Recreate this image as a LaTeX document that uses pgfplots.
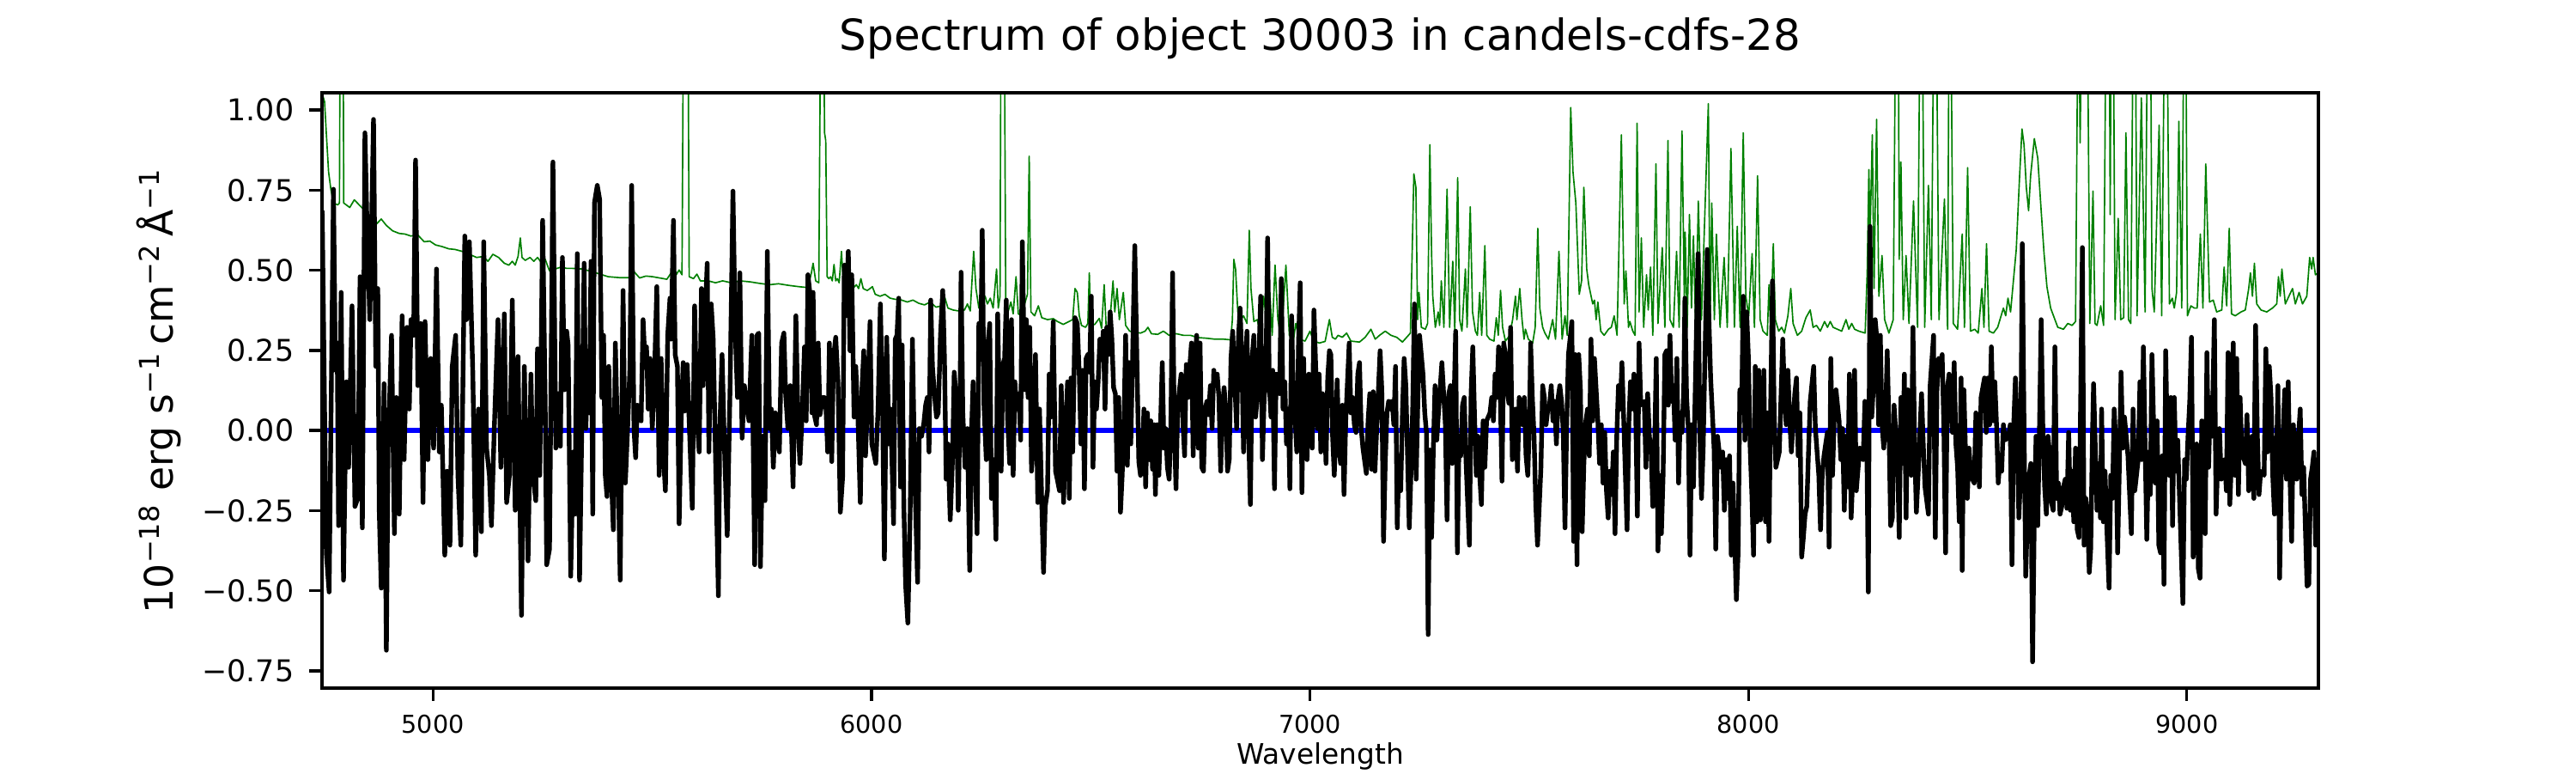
\documentclass[border=0pt]{standalone}
\usepackage{fontspec}
\setmainfont{DejaVu Sans}
\usepackage{pgfplots}
\pgfplotsset{compat=1.18}
\definecolor{mplgreen}{RGB}{0,128,0}
\definecolor{mplblue}{RGB}{0,0,255}
\begin{document}
\begin{tikzpicture}
\useasboundingbox (-1.25in,-0.33in) rectangle (8.75in,2.67in);
\begin{axis}[
  at={(0,0)}, anchor=south west,
  scale only axis, width=7.75in, height=2.31in,
  xmin=4747, xmax=9300, ymin=-0.804, ymax=1.054,
  clip=true,
  axis on top,
  axis line style={line width=0.8pt, black},
  major tick style={line width=0.8pt, black},
  tick align=outside, major tick length=3.5pt,
  xtick pos=bottom, ytick pos=left,
  xtick={5000,6000,7000,8000,9000},
  xticklabels={5000,6000,7000,8000,9000},
  ytick={-0.75,-0.5,-0.25,0,0.25,0.5,0.75,1},
  yticklabels={−0.75,−0.50,−0.25,0.00,0.25,0.50,0.75,1.00},
  xticklabel style={font=\fontsize{6.9}{8}\selectfont, inner sep=0pt, anchor=north, yshift=-3.9pt},
  yticklabel style={font=\fontsize{8.4}{10}\selectfont, inner sep=0pt, anchor=east, xshift=-4.2pt},
  title={Spectrum of object 30003 in candels-cdfs-28},
  title style={font=\fontsize{12}{14}\selectfont, at={(axis description cs:0.5,1)}, anchor=base, yshift=6pt, inner sep=0pt},
  xlabel={Wavelength},
  xlabel style={font=\fontsize{7.9}{9}\selectfont, at={(axis description cs:0.5,0)}, anchor=north, yshift=-15pt, inner sep=0pt},
  ylabel={10\textsuperscript{−18} erg s\textsuperscript{−1}\,cm\textsuperscript{−2}\,Å\textsuperscript{−1}},
  ylabel style={font=\fontsize{11}{13}\selectfont, at={(axis description cs:-0.0745,0.5)}, anchor=base, inner sep=0pt},
]
% error / sky spectrum (green)
\addplot[mplgreen, line width=0.4pt, mark=none, line join=round] coordinates {
(4747.5,1.06)(4749.0,1.044)(4752.9,1.026)(4756.8,0.929)(4762.0,0.807)(4767.2,0.753)(4773.1,0.710)(4782.9,0.704)(4786.8,0.710)(4788.8,1.5)(4794.6,1.5)(4796.6,0.710)(4802.5,0.704)(4810.3,0.696)(4820.7,0.720)(4831.8,0.704)(4844.9,0.686)(4857.9,0.656)(4871.0,0.644)(4882.1,0.660)(4893.8,0.640)(4908.2,0.623)(4923.2,0.615)(4936.3,0.613)(4949.3,0.607)(4965.6,0.610)(4980.0,0.589)(4993.1,0.591)(5006.1,0.579)(5021.1,0.574)(5036.1,0.567)(5050.5,0.565)(5066.8,0.559)(5083.1,0.550)(5099.5,0.540)(5114.5,0.543)(5125.6,0.528)(5136.7,0.550)(5149.7,0.540)(5162.8,0.522)(5173.2,0.516)(5181.0,0.528)(5187.6,0.516)(5194.1,0.543)(5199.3,0.601)(5203.2,0.540)(5210.4,0.531)(5221.5,0.540)(5230.0,0.528)(5238.5,0.540)(5246.3,0.526)(5256.1,0.534)(5265.9,0.498)(5278.9,0.504)(5292.0,0.510)(5305.0,0.506)(5318.1,0.506)
(5340.9,0.504)(5367.0,0.494)(5399.7,0.480)(5425.8,0.477)(5448.6,0.477)(5459.7,0.494)(5471.4,0.476)(5485.8,0.482)(5500.8,0.480)(5517.1,0.476)(5533.5,0.472)(5543.2,0.492)(5553.0,0.482)(5561.5,0.501)(5568.0,0.486)(5572.0,1.5)(5581.1,1.5)(5584.4,0.480)(5594.2,0.474)(5602.0,0.488)(5609.8,0.467)(5628.1,0.467)(5644.4,0.461)(5660.7,0.467)(5680.3,0.461)(5699.9,0.467)(5722.7,0.464)(5745.6,0.459)(5768.4,0.455)(5788.0,0.458)(5810.9,0.453)(5833.7,0.449)(5855.2,0.446)(5863.1,0.492)(5867.0,0.522)(5872.9,0.467)(5880.0,0.461)(5885.2,1.5)(5890.5,1.5)(5893.1,0.929)(5895.8,0.905)(5899.0,0.480)
(5903.0,0.474)(5906.9,0.480)(5910.8,0.467)(5914.7,0.518)(5918.6,0.467)(5922.5,0.474)(5926.4,0.461)(5931.7,0.559)(5935.6,0.467)(5939.5,0.522)(5943.4,0.492)(5947.3,0.504)(5952.5,0.461)(5957.8,0.443)(5965.6,0.455)(5970.8,0.443)(5976.0,0.474)(5981.3,0.443)(5990.4,0.437)(5996.9,0.443)(6002.2,0.449)(6008.7,0.425)(6019.8,0.419)(6030.9,0.425)(6042.6,0.413)(6055.7,0.409)(6068.7,0.407)(6081.8,0.401)(6094.8,0.407)(6107.9,0.397)(6121.0,0.392)(6134.0,0.401)(6147.1,0.385)(6160.1,0.389)(6166.6,0.419)(6174.5,0.382)(6186.2,0.376)(6199.3,0.373)(6212.3,0.376)(6218.9,0.395)(6225.4,0.373)(6233.2,0.559)(6238.4,0.443)(6245.0,0.382)(6252.8,0.407)(6259.3,0.419)(6264.5,0.395)(6271.1,0.413)(6277.6,0.382)(6285.4,0.504)(6289.3,0.382)(6293.3,0.419)(6295.9,1.5)(6302.4,1.5)(6306.3,0.407)(6311.5,0.370)(6318.1,0.401)(6323.3,0.364)(6329.8,0.480)(6335.0,0.364)(6342.9,0.358)(6349.4,0.395)(6355.9,0.425)(6359.8,0.856)(6363.8,0.370)(6372.2,0.358)(6380.7,0.389)(6388.5,0.352)(6401.6,0.346)(6414.7,0.349)(6424.4,0.340)(6437.5,0.331)(6450.6,0.340)(6459.0,0.346)(6464.3,0.443)(6469.5,0.431)
(6474.0,0.358)(6479.2,0.328)(6488.4,0.322)(6493.6,0.334)(6496.9,0.492)(6500.1,0.328)(6509.3,0.331)(6519.7,0.350)(6524.9,0.319)(6530.8,0.455)(6535.4,0.322)(6543.2,0.328)(6551.0,0.467)(6555.0,0.370)(6560.2,0.443)(6565.4,0.346)(6574.5,0.431)(6579.8,0.328)(6588.9,0.310)(6600.6,0.307)(6613.7,0.304)(6624.1,0.310)(6630.7,0.322)(6638.5,0.302)(6652.9,0.300)(6665.9,0.310)(6679.0,0.297)(6695.3,0.302)(6711.6,0.297)(6727.9,0.297)(6744.2,0.290)(6763.8,0.288)(6783.4,0.285)(6803.0,0.285)(6819.3,0.283)(6823.2,0.346)(6826.5,0.534)(6830.4,0.504)(6835.6,0.370)(6842.1,0.346)(6848.7,0.358)(6856.5,0.334)(6861.7,0.625)(6865.6,0.443)(6872.2,0.340)(6880.0,0.346)(6887.8,0.291)(6894.4,0.419)(6900.9,0.346)(6908.7,0.431)(6913.9,0.297)(6920.5,0.516)(6927.0,0.346)(6934.8,0.285)(6945.3,0.516)(6953.1,0.297)(6962.9,0.285)(6967.5,0.334)(6976.0,0.285)(6989.0,0.279)(7000.1,0.310)(7008.6,0.279)(7021.6,0.273)(7034.7,0.278)(7044.5,0.346)(7051.0,0.291)
(7058.2,0.285)(7064.1,0.297)(7073.9,0.291)(7083.7,0.304)(7093.5,0.279)(7113.1,0.276)(7126.1,0.291)(7139.2,0.316)(7149.0,0.285)(7158.8,0.297)(7171.8,0.310)(7184.9,0.297)(7197.9,0.291)(7211.0,0.276)(7220.8,0.291)(7229.2,0.304)(7237.1,0.801)(7241.7,0.759)(7245.6,0.346)(7248.8,0.431)(7254.1,0.322)(7263.2,0.316)(7268.4,0.334)(7273.6,0.892)(7277.5,0.552)(7280.2,0.419)(7286.0,0.322)(7292.6,0.370)(7295.8,0.328)(7299.7,0.467)(7305.6,0.322)(7312.8,0.753)(7318.7,0.322)(7325.8,0.528)(7330.4,0.310)(7337.0,0.789)(7341.5,0.346)(7346.7,0.310)(7354.6,0.504)(7358.5,0.322)(7365.7,0.698)(7370.9,0.370)(7377.4,0.310)(7382.0,0.297)(7387.2,0.431)(7391.8,0.297)(7399.0,0.577)(7403.5,0.297)(7410.0,0.285)(7419.8,0.279)(7425.1,0.352)(7429.6,0.297)(7434.8,0.437)(7439.4,0.322)(7445.9,0.279)(7455.7,0.297)(7462.3,0.346)(7468.8,0.419)(7472.1,0.346)(7478.6,0.443)(7483.8,0.346)(7488.4,0.285)(7491.6,0.316)(7498.2,0.285)(7508.0,0.273)(7513.8,0.322)(7519.7,0.631)(7524.3,0.382)(7530.8,0.322)(7536.0,0.304)(7543.9,0.285)(7553.6,0.346)(7560.2,0.285)(7568.0,0.559)(7575.2,0.285)(7581.7,0.358)(7586.9,0.297)(7594.8,1.008)(7600.0,0.807)(7606.5,0.710)(7614.3,0.425)(7619.6,0.467)(7624.8,0.759)(7631.3,0.504)
(7635.8,0.455)(7645.0,0.395)(7648.9,0.407)(7652.8,0.346)(7656.7,0.401)(7663.3,0.310)(7671.1,0.297)(7680.9,0.316)(7687.4,0.322)(7693.9,0.358)(7700.5,0.297)(7710.3,0.923)(7716.8,0.395)(7720.7,0.498)(7726.6,0.322)(7729.8,0.340)(7736.4,0.310)(7741.6,0.297)(7746.2,0.959)(7750.7,0.370)(7755.9,0.601)(7761.2,0.322)(7767.7,0.486)(7771.6,0.376)(7776.8,0.510)(7782.0,0.297)(7789.2,0.832)(7793.8,0.334)(7803.6,0.571)(7809.5,0.322)(7816.6,0.905)(7821.2,0.346)(7829.0,0.322)(7836.2,0.559)(7842.1,0.322)(7848.6,0.935)(7853.9,0.407)(7855.8,0.619)(7860.4,0.322)(7865.6,0.674)(7870.2,0.382)(7874.7,0.607)(7879.9,0.310)(7885.8,0.716)(7893.0,0.346)(7908.7,1.020)(7912.6,0.334)(7916.5,0.710)(7922.4,0.346)(7927.0,0.613)(7935.4,0.322)(7944.6,0.540)(7951.8,0.322)(7960.2,0.880)(7968.1,0.322)(7974.6,0.637)(7981.1,0.322)(7988.3,0.929)(7994.2,0.419)(8000.7,0.358)(8008.5,0.552)(8013.8,0.322)(8020.9,0.795)(8026.8,0.346)(8033.3,0.310)(8043.1,0.297)(8047.0,0.455)(8051.0,0.310)(8056.8,0.583)(8061.4,0.346)(8069.2,0.310)(8075.8,0.322)(8082.3,0.304)(8090.1,0.358)(8096.7,0.443)(8101.9,0.334)(8111.7,0.297)(8121.5,0.310)(8131.2,0.352)(8141.0,0.376)(8147.6,0.322)(8155.4,0.328)(8163.9,0.310)(8173.7,0.340)(8180.2,0.322)(8186.7,0.340)(8193.2,0.322)(8203.0,0.316)
(8212.8,0.310)(8222.6,0.346)(8229.1,0.316)(8235.6,0.334)(8242.2,0.316)(8252.0,0.310)(8266.3,0.304)(8270.9,0.492)(8274.8,0.814)(8277.4,0.601)(8282.6,0.923)(8286.5,0.443)(8292.4,0.971)(8297.6,0.419)(8304.8,0.546)(8310.7,0.346)(8320.5,0.304)(8330.3,0.346)(8336.8,1.5)(8341.4,1.5)(8344.0,0.534)(8347.9,0.838)(8353.1,0.346)(8359.6,0.546)(8366.2,0.334)(8376.6,0.716)(8385.8,0.322)(8392.3,1.5)(8395.5,1.5)(8402.1,0.322)(8410.6,0.765)(8417.1,0.346)(8423.6,1.5)(8427.5,1.5)(8434.7,0.346)(8447.1,0.722)(8454.3,0.316)(8458.2,1.5)(8460.8,1.5)(8467.3,0.334)(8477.1,0.316)(8487.6,0.613)(8492.8,0.322)(8500.0,0.820)(8506.5,0.310)(8516.3,0.316)(8524.1,0.304)(8532.6,0.443)(8537.2,0.322)(8543.1,0.583)(8548.9,0.310)(8558.7,0.304)(8568.5,0.322)(8581.6,0.382)(8586.8,0.358)(8592.0,0.413)(8597.9,0.370)(8610.9,0.565)(8618.1,0.783)(8624.0,0.941)(8628.6,0.892)(8633.8,0.759)(8639.0,0.686)(8643.6,0.795)(8652.1,0.911)(8659.9,0.850)(8667.7,0.686)(8674.3,0.552)(8680.8,0.449)(8689.3,0.382)(8695.8,0.358)(8705.6,0.322)(8718.6,0.316)(8728.4,0.334)(8738.2,0.328)(8746.1,0.340)(8752.6,1.5)(8756.5,0.898)(8761.7,1.5)(8772.2,1.5)(8778.7,0.334)
(8785.9,0.747)(8790.5,0.334)(8795.1,0.328)(8803.5,0.389)(8810.1,0.328)(8816.6,1.5)(8822.5,1.5)(8825.1,0.674)(8827.7,1.5)(8831.6,1.5)(8836.2,0.346)(8843.4,0.662)(8849.2,0.346)(8855.8,0.352)(8861.0,0.929)(8866.9,0.346)(8872.1,0.334)(8878.6,1.5)(8881.9,1.5)(8886.4,0.358)(8896.2,1.038)(8904.7,0.370)(8911.2,1.5)(8916.5,1.5)(8920.4,0.443)(8925.6,0.370)(8936.7,0.953)(8942.6,0.358)(8950.4,1.5)(8953.7,1.5)(8960.2,0.395)(8966.7,0.413)(8971.3,0.382)(8976.5,0.431)(8981.7,0.965)(8988.3,0.382)(8994.1,1.5)(8996.7,1.5)(9001.3,0.358)(9009.1,0.389)(9017.0,0.382)(9023.5,0.382)(9030.7,0.613)(9036.6,0.382)(9043.1,0.832)(9051.6,0.401)(9060.1,0.407)(9067.9,0.370)(9079.6,0.376)(9084.9,0.510)(9090.7,0.389)(9096.6,0.631)(9101.8,0.364)(9110.3,0.358)(9123.4,0.370)(9133.2,0.376)(9141.0,0.443)(9144.9,0.492)(9149.5,0.419)(9154.0,0.522)(9159.3,0.395)(9169.1,0.376)(9182.1,0.370)(9195.2,0.382)(9205.0,0.395)(9208.9,0.480)(9212.8,0.419)(9216.7,0.504)(9224.5,0.395)(9240.9,0.443)(9247.4,0.395)(9255.9,0.431)(9263.7,0.395)(9273.5,0.419)(9280.0,0.540)(9284.6,0.504)(9287.9,0.540)(9293.1,0.486)(9299.6,0.492)
};
% zero line (blue)
\addplot[mplblue, line width=1.3pt, mark=none] coordinates {(4747,0) (9300,0)};
% flux (black)
\addplot[black, line width=1.3pt, mark=none, line join=round] coordinates {
(4747.5,0.686)(4756.8,-0.382)(4763.3,-0.504)(4773.1,0.753)(4777.7,0.188)(4781.6,0.273)(4784.8,-0.297)(4790.7,0.431)(4796.0,-0.467)(4802.5,0.152)(4807.7,-0.115)(4815.5,0.389)(4822.1,-0.237)(4828.6,-0.212)(4833.8,0.480)(4839.0,-0.304)(4844.9,0.929)(4849.5,0.650)(4856.0,0.346)(4864.5,0.971)(4869.7,0.200)(4874.3,0.443)(4877.5,-0.249)(4882.1,-0.492)(4888.6,0.146)(4893.8,-0.686)(4897.8,-0.055)(4905.6,0.297)(4912.1,-0.322)(4916.7,0.103)(4923.2,-0.261)(4929.7,0.358)(4934.3,-0.091)(4940.8,0.322)(4946.1,0.067)(4950.0,0.346)(4955.9,0.297)(4960.4,0.844)(4965.6,0.140)(4972.2,0.334)(4977.4,-0.225)(4982.0,0.340)(4988.5,-0.091)(4995.0,0.225)(5001.6,-0.055)(5008.1,0.504)(5014.6,-0.067)(5019.2,0.079)(5027.0,-0.389)(5032.2,-0.127)(5038.8,-0.358)(5044.0,0.200)(5051.8,0.297)(5057.0,-0.140)(5063.6,-0.358)(5072.7,0.607)(5076.6,0.346)(5083.1,0.589)(5091.0,0.176)(5097.5,-0.389)(5104.0,0.067)(5110.5,-0.316)(5115.8,0.589)(5122.3,-0.055)(5128.8,-0.140)(5133.4,-0.297)(5139.9,0.006)(5148.4,0.346)(5154.9,-0.115)(5162.8,0.364)(5168.0,-0.225)(5174.5,-0.140)(5181.0,0.407)(5187.6,-0.249)(5194.1,0.231)(5201.9,-0.577)(5208.5,0.200)(5216.9,-0.407)(5223.5,0.176)(5228.0,-0.140)(5234.6,-0.219)(5238.5,0.255)(5243.7,-0.140)(5250.2,0.656)(5256.1,0.079)(5259.4,-0.419)(5265.9,-0.370)(5273.7,0.838)(5280.3,-0.055)(5285.5,0.115)(5290.7,-0.049)(5295.3,0.540)(5299.8,0.127)(5305.0,0.310)(5308.3,0.267)(5314.2,-0.455)
(5320.0,-0.067)(5323.9,-0.261)(5329.2,0.552)(5334.4,-0.467)(5339.6,0.018)(5344.8,0.522)(5348.7,0.006)(5352.7,0.170)(5356.6,0.055)(5360.5,0.528)(5364.4,-0.261)(5368.3,0.710)(5374.8,0.765)(5380.1,0.722)(5385.3,0.103)(5389.2,0.297)(5393.1,-0.140)(5397.0,-0.206)(5401.0,0.200)(5406.2,-0.115)(5411.4,-0.310)(5416.0,0.273)(5420.5,0.006)(5427.1,-0.467)(5433.6,0.437)(5438.8,-0.164)(5444.0,0.006)(5449.3,0.200)(5453.2,0.765)(5458.4,0.006)(5462.3,-0.085)(5466.2,0.079)(5470.1,0.042)(5474.7,0.030)(5479.3,0.346)(5483.2,0.225)(5487.1,0.261)(5491.0,0.067)(5495.0,0.225)(5500.2,0.006)(5504.1,0.115)(5510.6,0.449)(5515.8,-0.140)(5520.4,0.225)(5525.0,-0.067)(5530.2,-0.188)(5535.4,0.297)(5540.6,0.413)(5543.2,0.285)(5548.5,0.656)(5552.4,0.237)(5557.6,0.200)(5561.5,-0.291)(5566.1,0.030)(5570.7,0.212)(5574.6,0.061)(5579.8,0.206)(5585.0,0.006)(5591.5,-0.243)(5596.8,0.389)(5602.0,0.042)(5607.2,-0.067)(5612.4,0.443)(5616.3,0.140)(5620.3,0.346)(5625.5,0.522)(5629.4,-0.067)(5634.6,0.395)(5639.2,0.285)(5644.4,-0.079)(5651.0,-0.516)(5654.2,0.006)(5659.4,0.237)(5664.6,-0.042)(5671.2,-0.328)(5677.7,0.140)(5684.2,0.747)(5689.4,0.310)(5694.7,0.103)(5699.9,0.492)(5705.1,-0.024)(5710.3,0.140)(5715.6,0.079)(5720.8,0.030)(5727.3,0.297)(5733.8,-0.419)(5739.0,0.297)(5743.0,0.304)(5746.9,-0.425)(5752.1,-0.018)(5757.3,-0.219)(5762.6,0.559)(5767.8,0.006)(5771.7,0.067)(5776.3,-0.115)(5780.8,0.055)(5784.7,-0.018)(5790.0,-0.067)(5795.2,0.273)(5800.4,0.304)(5804.3,0.115)(5809.5,0.006)(5814.8,0.140)(5821.3,-0.176)(5827.8,0.358)(5833.0,0.006)(5837.0,-0.103)(5842.2,0.055)(5847.4,0.261)(5851.3,0.030)(5855.2,0.486)(5860.5,0.419)(5864.4,0.055)(5867.0,0.431)(5870.9,0.042)(5874.8,0.018)(5878.7,0.273)(5882.6,0.049)(5889.2,0.103)
(5892.5,0.103)(5896.4,0.067)(5900.3,-0.067)(5904.2,0.273)(5909.5,-0.097)(5913.4,0.225)(5918.6,0.291)(5923.8,0.152)(5929.1,-0.255)(5934.3,-0.146)(5938.2,0.516)(5942.1,0.358)(5947.3,0.559)(5951.2,0.249)(5955.2,0.486)(5960.4,0.042)(5964.3,0.200)(5969.5,0.030)(5974.7,-0.225)(5978.7,0.140)(5982.6,0.249)(5986.5,-0.079)(5990.4,0.067)(5996.9,0.340)(6000.8,-0.042)(6004.8,-0.067)(6010.0,-0.103)(6015.2,0.067)(6020.4,0.395)(6025.6,0.055)(6029.6,-0.401)(6034.8,0.291)(6040.0,-0.042)(6043.9,0.067)(6050.5,-0.291)(6054.4,0.285)(6058.3,0.297)(6062.2,0.413)(6066.1,-0.176)(6070.0,0.267)(6074.0,-0.237)(6077.9,-0.480)(6083.1,-0.601)(6088.3,-0.261)(6093.5,0.285)(6098.8,-0.140)(6105.3,-0.474)(6109.2,0.006)(6114.4,-0.018)(6119.6,0.024)(6123.6,0.079)(6127.5,0.103)(6131.4,-0.067)(6135.3,0.407)(6139.2,0.200)(6144.4,0.103)(6148.4,0.042)(6152.3,0.055)(6157.5,0.297)(6162.7,0.437)(6166.6,0.225)(6170.5,-0.152)(6174.5,-0.042)(6179.7,-0.279)(6184.9,-0.091)(6188.8,0.182)(6194.0,0.091)(6198.0,-0.249)(6201.9,0.055)(6204.5,0.494)(6208.4,0.055)(6213.6,-0.115)(6218.9,0.006)(6224.1,-0.437)(6228.0,-0.018)(6231.9,0.152)(6235.8,-0.091)(6241.0,-0.322)(6245.0,0.334)(6248.9,0.225)(6252.8,0.625)(6256.7,0.079)(6261.9,-0.091)(6265.8,0.273)(6269.8,0.334)(6273.7,-0.212)(6278.9,-0.091)(6284.1,-0.340)(6288.0,0.364)(6292.0,0.042)(6295.9,-0.127)(6299.8,0.206)(6303.7,0.225)(6307.6,0.407)(6310.2,0.042)(6315.4,-0.103)(6319.4,0.346)(6323.3,-0.140)(6327.2,0.152)(6331.1,0.067)(6336.3,0.115)(6340.3,-0.030)(6344.2,0.589)(6349.4,0.127)(6353.3,0.346)(6357.2,0.103)(6361.1,0.322)(6365.1,-0.127)(6369.0,-0.042)(6374.2,0.237)(6379.4,-0.225)(6383.3,0.067)(6388.5,-0.225)(6392.5,-0.443)(6396.4,-0.237)(6401.6,-0.188)(6405.5,0.176)(6409.4,0.042)(6414.7,0.340)(6419.9,-0.127)(6423.8,-0.152)(6429.0,-0.188)(6432.9,0.140)(6438.2,-0.225)(6442.1,-0.030)(6447.3,0.152)(6451.2,-0.212)(6455.1,0.164)(6459.0,-0.067)(6464.3,0.352)(6469.5,0.334)
(6474.0,0.176)(6477.9,-0.042)(6481.8,0.188)(6485.8,-0.182)(6489.7,0.225)(6493.6,0.237)(6497.5,0.182)(6501.4,0.419)(6505.3,-0.115)(6509.3,0.152)(6513.2,0.067)(6517.1,0.152)(6521.0,0.285)(6524.9,0.225)(6528.8,0.310)(6532.8,0.067)(6536.7,0.322)(6540.6,0.237)(6544.5,0.370)(6548.4,0.285)(6552.3,0.134)(6556.3,0.115)(6560.2,-0.127)(6564.1,0.103)(6568.0,-0.255)(6571.9,-0.140)(6575.8,0.018)(6579.8,0.297)(6583.7,-0.109)(6587.6,0.212)(6591.5,-0.042)(6595.4,0.212)(6600.6,0.577)(6605.9,0.188)(6609.8,-0.097)(6613.7,-0.140)(6617.6,-0.091)(6621.5,0.067)(6625.4,-0.176)(6629.4,0.055)(6633.3,-0.091)(6637.2,0.030)(6641.1,-0.121)(6645.0,0.018)(6647.6,-0.200)(6651.5,0.018)(6655.5,-0.140)(6659.4,0.018)(6663.3,0.212)(6667.2,-0.055)(6671.1,0.006)(6675.0,-0.115)(6679.0,-0.152)(6682.9,0.018)(6686.8,0.492)(6690.7,0.018)(6694.6,-0.182)(6698.5,0.073)(6702.5,0.127)(6706.4,0.176)(6710.3,0.030)(6714.2,-0.079)(6718.1,0.206)(6722.0,0.103)(6726.0,0.200)(6729.9,0.273)(6733.8,-0.079)(6737.7,0.200)(6741.6,0.297)(6745.5,-0.055)(6749.5,0.273)(6753.4,-0.115)(6757.3,-0.127)(6761.2,0.067)(6765.1,0.091)(6769.0,0.049)(6773.0,0.140)(6776.9,0.006)(6780.8,0.188)(6784.7,0.140)(6788.6,0.176)(6792.5,0.103)(6796.5,-0.127)(6800.4,0.067)(6804.3,0.134)(6808.2,0.067)(6812.1,-0.127)(6816.0,-0.091)(6820.0,0.225)(6823.9,0.310)(6827.8,0.176)(6833.0,0.006)(6836.9,0.285)(6840.8,0.382)(6844.7,0.225)(6848.7,-0.067)(6852.6,0.200)(6856.5,0.310)(6860.4,-0.018)(6864.3,-0.231)(6868.2,0.225)(6872.2,0.297)(6876.1,0.042)(6880.0,0.103)(6883.9,0.237)(6887.8,0.419)(6891.7,-0.091)(6895.7,0.103)(6899.6,0.164)(6903.5,0.601)(6907.4,0.140)(6911.3,0.042)(6915.2,0.188)(6919.2,-0.182)(6923.1,0.176)(6927.0,0.140)(6930.9,0.115)(6934.8,0.474)(6938.7,0.067)(6942.7,0.152)(6946.6,-0.042)(6950.5,0.067)(6954.4,-0.182)(6958.3,0.358)(6962.2,0.103)(6966.2,0.042)(6970.1,-0.067)(6974.0,0.273)(6977.9,0.461)(6981.8,-0.194)(6985.7,0.225)(6989.7,-0.055)(6993.6,-0.091)(6997.5,0.176)(7001.4,0.030)(7005.3,-0.055)(7009.2,0.376)(7013.2,0.200)(7017.1,0.006)(7021.0,0.176)(7024.9,-0.067)(7028.8,0.115)(7032.7,0.079)(7036.7,-0.103)(7040.6,0.164)(7044.5,0.249)
(7047.8,0.237)(7051.7,-0.018)(7055.6,-0.140)(7059.5,0.030)(7062.2,0.158)(7066.1,-0.055)(7070.0,-0.103)(7073.9,0.079)(7077.8,-0.200)(7081.7,0.030)(7085.7,0.152)(7089.6,0.273)(7093.5,0.055)(7097.4,0.103)(7101.3,0.018)(7105.2,-0.006)(7109.2,0.176)(7113.1,0.212)(7117.0,0.006)(7120.9,-0.055)(7128.7,-0.134)(7132.7,0.030)(7136.6,0.115)(7140.5,-0.121)(7144.4,0.121)(7148.3,-0.127)(7156.2,0.127)(7160.1,0.249)(7164.0,0.127)(7167.9,-0.346)(7171.8,-0.103)(7175.7,0.055)(7179.6,0.091)(7183.6,0.067)(7187.5,0.091)(7191.4,0.018)(7195.3,0.200)(7199.2,-0.304)(7203.1,-0.079)(7207.1,-0.188)(7211.0,0.055)(7214.9,0.225)(7218.8,0.140)(7226.6,-0.304)(7230.6,-0.127)(7234.5,0.079)(7238.4,0.395)(7242.3,-0.152)(7246.2,0.091)(7250.1,0.297)(7257.9,0.176)(7261.9,0.055)(7265.8,-0.006)(7269.7,-0.637)(7273.6,-0.061)(7277.5,-0.334)(7281.5,-0.055)(7285.4,0.140)(7289.3,-0.030)(7293.2,0.055)(7301.0,0.212)(7305.0,0.115)(7308.9,0.018)(7312.8,-0.279)(7316.7,0.115)(7320.6,0.140)(7324.5,-0.103)(7328.5,0.079)(7332.4,0.310)(7336.3,-0.382)(7340.2,-0.018)(7344.1,-0.079)(7348.0,0.079)(7352.0,0.103)(7355.9,-0.091)(7363.7,-0.358)(7367.6,0.115)(7371.5,0.261)(7375.5,0.042)(7379.4,-0.140)(7383.3,-0.018)(7387.2,-0.140)(7391.1,-0.231)(7395.0,0.030)(7399.0,-0.115)(7402.9,0.030)(7410.7,0.055)(7414.6,0.103)(7418.5,0.030)(7422.4,0.176)(7426.4,0.103)(7430.3,0.261)(7434.2,0.115)(7438.1,-0.158)(7442.0,0.273)(7446.0,0.237)(7449.9,0.127)(7453.8,0.085)(7457.7,0.322)(7461.6,-0.091)(7465.5,0.006)(7469.4,0.067)(7473.4,-0.127)(7477.3,0.103)(7481.2,0.067)(7485.1,0.018)(7489.0,0.103)(7492.9,-0.079)(7496.9,-0.140)(7500.8,0.030)(7503.4,0.273)(7507.3,0.103)(7511.2,-0.018)(7515.1,-0.231)(7519.1,-0.358)(7523.0,-0.237)(7526.9,-0.115)(7530.8,0.140)(7534.7,0.103)(7538.6,0.018)(7542.6,0.067)(7546.5,0.079)(7550.4,0.140)(7554.3,0.030)(7558.2,0.091)(7562.1,-0.042)(7566.1,0.103)(7570.0,0.140)(7573.9,0.091)(7577.8,-0.006)(7581.7,-0.304)(7585.6,0.018)(7589.6,0.237)(7597.4,0.340)(7601.3,-0.346)(7605.2,0.237)(7609.1,-0.419)(7613.1,0.237)(7617.0,0.127)(7620.9,-0.316)(7624.8,-0.103)
(7629.3,0.030)(7633.2,0.067)(7637.1,-0.079)(7641.1,0.285)(7645.0,0.030)(7648.9,0.225)(7652.8,0.127)(7656.7,0.030)(7660.6,-0.103)(7664.6,0.018)(7668.5,-0.164)(7672.4,-0.006)(7676.3,-0.188)(7680.2,-0.273)(7684.1,-0.127)(7688.1,-0.200)(7692.0,-0.067)(7695.9,-0.322)(7699.8,-0.018)(7703.7,0.140)(7707.6,0.067)(7711.6,0.212)(7715.5,0.042)(7723.3,-0.310)(7727.2,0.018)(7731.1,0.152)(7735.1,0.067)(7739.0,0.176)(7742.9,0.067)(7746.8,-0.267)(7750.7,0.273)(7754.6,0.079)(7762.5,0.091)(7766.4,-0.115)(7770.3,0.115)(7774.2,-0.018)(7778.1,-0.067)(7782.0,-0.237)(7786.0,-0.067)(7789.9,0.225)(7793.8,-0.376)(7797.7,-0.140)(7801.6,-0.322)(7805.5,-0.140)(7809.5,0.237)(7813.4,0.249)(7817.3,0.079)(7821.2,0.297)(7825.1,0.091)(7829.0,0.140)(7833.0,-0.030)(7836.9,0.225)(7840.8,-0.164)(7844.7,0.055)(7848.6,-0.006)(7852.5,0.127)(7855.2,0.413)(7859.1,0.103)(7863.0,0.006)(7866.9,-0.389)(7870.8,0.018)(7874.7,-0.176)(7878.6,0.115)(7881.3,0.297)(7885.2,0.552)(7889.1,0.006)(7893.0,-0.212)(7896.9,-0.055)(7900.8,0.225)(7906.1,0.565)(7910.0,0.346)(7913.9,0.164)(7921.7,-0.055)(7925.6,-0.370)(7929.6,-0.018)(7933.5,-0.067)(7937.4,-0.115)(7941.3,-0.067)(7945.2,-0.249)(7949.1,-0.091)(7953.1,-0.212)(7957.0,-0.079)(7960.9,-0.389)(7964.8,-0.164)(7972.6,-0.528)(7976.6,-0.382)(7980.5,0.127)(7984.4,0.055)(7988.3,0.419)(7992.2,-0.030)(7996.1,0.370)(8000.1,0.225)(8004.0,-0.055)(8007.9,-0.200)(8011.8,-0.389)(8015.7,0.200)(8019.6,-0.285)(8023.6,0.188)(8027.5,-0.279)(8031.4,-0.042)(8035.3,0.188)(8039.2,-0.285)(8043.1,0.055)(8047.0,-0.346)(8051.0,0.103)(8054.9,0.467)(8058.8,0.055)(8062.7,-0.115)(8070.5,-0.067)(8078.4,0.285)(8082.3,0.103)(8086.2,0.018)(8090.1,0.188)(8094.0,0.042)(8098.0,-0.067)(8105.8,0.115)(8109.7,0.164)(8113.6,-0.079)(8117.5,0.055)(8121.5,-0.395)(8125.4,-0.334)(8129.3,-0.261)(8133.2,-0.237)(8137.1,-0.067)(8141.0,0.091)(8148.9,0.200)(8152.8,0.006)(8156.7,-0.067)(8160.6,-0.140)(8164.5,-0.310)(8168.4,-0.140)(8172.4,-0.079)(8176.3,-0.042)(8180.2,-0.006)(8184.1,-0.364)(8188.0,0.225)(8191.9,-0.140)(8195.9,0.042)(8199.8,0.127)
(8206.9,0.030)(8210.8,-0.091)(8214.7,0.006)(8218.7,-0.249)(8222.6,-0.018)(8226.5,-0.176)(8230.4,0.176)(8234.3,-0.273)(8238.2,-0.140)(8242.2,0.188)(8246.1,-0.188)(8253.9,-0.055)(8261.7,-0.091)(8265.7,0.091)(8269.6,0.030)(8273.5,-0.504)(8277.4,0.637)(8281.3,0.042)(8285.2,0.140)(8289.2,0.346)(8293.1,0.285)(8297.0,0.018)(8300.9,0.297)(8304.8,0.018)(8308.7,-0.055)(8312.7,0.030)(8316.6,0.249)(8320.5,0.018)(8324.4,-0.297)(8328.3,-0.273)(8332.2,0.079)(8340.1,-0.091)(8344.0,-0.334)(8347.9,0.103)(8351.8,-0.103)(8355.7,0.176)(8359.6,-0.273)(8363.6,0.127)(8367.5,-0.018)(8371.4,-0.140)(8375.3,0.322)(8379.2,-0.055)(8383.1,-0.255)(8387.1,-0.140)(8394.9,0.115)(8398.8,-0.042)(8402.7,-0.176)(8410.6,-0.261)(8414.5,0.140)(8422.3,0.297)(8426.2,-0.334)(8430.1,0.127)(8434.1,0.225)(8438.0,0.200)(8441.9,0.237)(8445.8,0.006)(8449.7,-0.382)(8453.6,0.127)(8457.6,0.176)(8465.4,-0.006)(8469.3,0.212)(8473.2,-0.042)(8477.1,-0.115)(8481.0,-0.285)(8485.0,0.164)(8487.6,-0.437)(8491.5,0.127)(8495.4,-0.079)(8499.3,-0.212)(8503.2,-0.055)(8507.2,-0.140)(8515.0,-0.164)(8518.9,0.055)(8522.8,-0.018)(8526.7,-0.176)(8530.6,0.103)(8538.5,0.164)(8542.4,-0.006)(8546.3,0.164)(8550.2,0.018)(8554.1,0.261)(8558.1,0.030)(8562.0,0.152)(8565.9,0.018)(8569.8,-0.164)(8573.7,-0.091)(8577.6,-0.127)(8581.6,0.018)(8585.5,-0.030)(8593.3,-0.018)(8597.2,0.018)(8601.1,-0.419)(8605.1,0.018)(8609.0,0.164)(8612.9,0.018)(8616.8,-0.273)(8620.7,-0.140)(8624.6,0.583)(8628.6,0.018)(8632.5,-0.455)(8636.4,-0.261)(8640.3,-0.140)(8644.2,-0.103)(8648.1,-0.722)(8652.1,-0.261)(8656.0,-0.018)(8659.9,-0.297)(8663.8,0.006)(8667.7,0.346)(8671.6,0.006)(8675.6,-0.176)(8679.5,-0.261)(8683.4,-0.018)(8687.3,-0.079)(8691.2,-0.225)(8695.1,-0.249)(8699.1,0.261)(8703.0,-0.212)(8706.9,-0.164)(8710.8,-0.261)(8714.7,-0.237)(8718.6,-0.176)(8722.6,-0.152)(8726.5,-0.243)(8730.4,-0.006)(8734.3,-0.249)(8738.2,-0.127)(8742.1,-0.285)(8746.1,-0.055)(8750.0,-0.310)(8753.9,-0.334)(8757.8,0.103)(8761.7,0.571)(8765.6,-0.358)(8769.6,-0.212)(8773.5,-0.273)(8777.4,-0.443)
(8780.7,-0.370)(8784.6,-0.018)(8787.2,0.146)(8795.1,-0.249)(8799.0,-0.103)(8802.9,-0.273)(8805.5,0.067)(8809.4,-0.285)(8813.3,-0.127)(8817.3,-0.297)(8822.5,-0.492)(8826.4,-0.140)(8830.3,-0.212)(8834.2,0.067)(8838.1,-0.042)(8842.1,-0.382)(8846.0,-0.115)(8849.9,0.182)(8853.8,-0.055)(8857.7,0.042)(8865.6,-0.079)(8873.4,-0.322)(8877.3,0.067)(8881.2,-0.188)(8889.0,-0.091)(8893.0,0.152)(8896.9,-0.091)(8900.8,0.261)(8904.7,-0.042)(8908.6,-0.340)(8912.5,-0.067)(8916.5,-0.200)(8920.4,0.237)(8924.3,0.006)(8928.2,-0.164)(8932.1,0.030)(8936.0,-0.358)(8940.0,-0.382)(8943.9,-0.079)(8947.8,-0.480)(8951.7,0.249)(8955.6,-0.055)(8959.5,-0.140)(8963.5,0.103)(8967.4,-0.297)(8971.3,0.103)(8975.2,-0.127)(8979.1,-0.030)(8983.0,-0.200)(8990.9,-0.540)(8994.8,-0.091)(8998.7,-0.152)(9002.6,-0.018)(9006.5,0.091)(9010.5,0.291)(9014.4,-0.395)(9018.3,-0.285)(9022.2,-0.042)(9026.1,-0.431)(9030.0,-0.461)(9034.0,0.030)(9037.9,-0.091)(9041.8,-0.322)(9045.7,0.243)(9049.6,-0.115)(9053.5,0.103)(9057.4,-0.018)(9062.7,0.346)(9066.6,-0.261)(9070.5,-0.091)(9074.4,0.006)(9078.3,-0.152)(9086.2,-0.091)(9090.1,-0.188)(9094.0,0.243)(9097.9,-0.231)(9101.8,-0.091)(9105.7,0.273)(9109.7,-0.140)(9113.6,0.225)(9117.5,-0.200)(9121.4,0.103)(9125.3,-0.067)(9133.2,-0.103)(9137.1,0.049)(9141.0,-0.188)(9144.9,-0.091)(9148.8,-0.018)(9152.7,-0.212)(9156.7,0.328)(9160.6,-0.006)(9164.5,-0.200)(9168.4,-0.127)(9176.2,-0.140)(9180.1,0.255)(9184.1,-0.067)(9188.0,0.200)(9191.9,0.103)(9195.8,-0.140)(9199.7,-0.261)(9203.6,-0.140)(9207.6,0.140)(9211.5,-0.461)(9215.4,-0.140)(9223.2,0.127)(9227.1,-0.152)(9231.1,0.152)(9235.0,-0.140)(9238.9,-0.346)(9242.8,0.018)(9250.6,-0.152)(9254.6,-0.018)(9258.5,0.067)(9262.4,-0.200)(9266.3,-0.115)(9274.1,-0.486)(9278.1,-0.480)(9282.0,-0.152)(9285.9,-0.115)(9289.8,-0.067)(9293.7,-0.358)(9296.3,-0.140)(9298.9,-0.085)
};
\end{axis}
\end{tikzpicture}
\end{document}
